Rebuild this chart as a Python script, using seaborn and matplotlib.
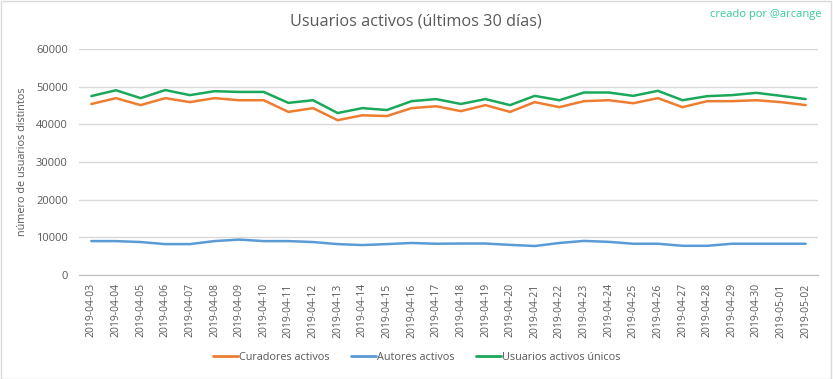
import numpy as np
import pandas as pd
import matplotlib
matplotlib.use("Agg")
import matplotlib.pyplot as plt
import seaborn as sns

dates = ['2019-04-03', '2019-04-04', '2019-04-05', '2019-04-06', '2019-04-07',
         '2019-04-08', '2019-04-09', '2019-04-10', '2019-04-11', '2019-04-12',
         '2019-04-13', '2019-04-14', '2019-04-15', '2019-04-16', '2019-04-17',
         '2019-04-18', '2019-04-19', '2019-04-20', '2019-04-21', '2019-04-22',
         '2019-04-23', '2019-04-24', '2019-04-25', '2019-04-26', '2019-04-27',
         '2019-04-28', '2019-04-29', '2019-04-30', '2019-05-01', '2019-05-02']

curadores = [45400, 46950, 45100, 46950, 45900, 46950, 46400, 46400, 43300, 44300,
             41100, 42400, 42200, 44300, 44800, 43500, 45100, 43300, 45900, 44560,
             46150, 46400, 45600, 46950, 44560, 46150, 46150, 46400, 45900, 45100]

autores = [9000, 9000, 8750, 8200, 8200, 9000, 9400, 9000, 9000, 8750,
           8200, 7950, 8200, 8500, 8300, 8350, 8350, 8000, 7700, 8500,
           9050, 8800, 8300, 8300, 7750, 7750, 8300, 8300, 8300, 8300]

unicos = [47500, 49050, 46950, 49100, 47750, 48800, 48600, 48600, 45700, 46400,
          43000, 44300, 43800, 46150, 46700, 45400, 46700, 45100, 47560, 46400,
          48450, 48450, 47560, 48900, 46400, 47480, 47750, 48360, 47560, 46700]

series_names = ['Curadores activos', 'Autores activos', 'Usuarios activos únicos']
colors = ['#ED7D31', '#5B9BD5', '#1AA85A']

rows = []
for name, vals in zip(series_names, [curadores, autores, unicos]):
    for i, v in enumerate(vals):
        rows.append({'idx': i, 'valor': v, 'serie': name})
df = pd.DataFrame(rows)

sns.set_style("white")
plt.rcParams['font.family'] = ['Open Sans', 'DejaVu Sans']

fig = plt.figure(figsize=(8.33, 3.79), dpi=100)
ax = fig.add_axes([79 / 833, 1 - 275 / 379, (818 - 79) / 833, (275 - 49) / 379])

sns.lineplot(data=df, x='idx', y='valor', hue='serie', hue_order=series_names,
             palette=colors, linewidth=1.8, ax=ax, legend=False)

ax.set_xlim(-0.5, len(dates) - 0.5)
ax.set_ylim(0, 60000)
ax.set_yticks(np.arange(0, 60001, 10000))
ax.set_xticks(range(len(dates)))
ax.set_xticklabels(dates, rotation=90, fontsize=7.5, color='#595959')
ax.tick_params(axis='y', labelsize=8, colors='#595959', length=0, pad=8)
ax.tick_params(axis='x', length=0, pad=6)
ax.grid(axis='y', color='#d9d9d9', linewidth=1)
ax.set_axisbelow(True)
for s in ['top', 'right', 'left']:
    ax.spines[s].set_visible(False)
ax.spines['bottom'].set_color('#bfbfbf')
ax.set_xlabel('')
ax.set_ylabel('número de usuarios distintos', fontsize=7.8, color='#595959', labelpad=6)

fig.text(416 / 833, 1 - 22 / 379, 'Usuarios activos (últimos 30 días)', ha='center', va='center',
         fontsize=11.7, color='#595959')
fig.text(822 / 833, 1 - 14 / 379, 'creado por @arcange', ha='right', va='center',
         fontsize=8, color='#36C99C')

handles = [plt.Line2D([], [], color=c, linewidth=2) for c in colors]
fig.legend(handles, series_names, loc='center', bbox_to_anchor=(0.5, 1 - 357 / 379),
           ncol=3, frameon=False, fontsize=7.8, handlelength=2.3, handletextpad=0.1,
           columnspacing=2.0, labelcolor='#595959')

fig.patches.append(plt.Rectangle((0.001, 0.001), 0.997, 0.997, transform=fig.transFigure,
                                 fill=False, edgecolor='#d9d9d9', linewidth=1))

fig.savefig('out.png', dpi=100)
